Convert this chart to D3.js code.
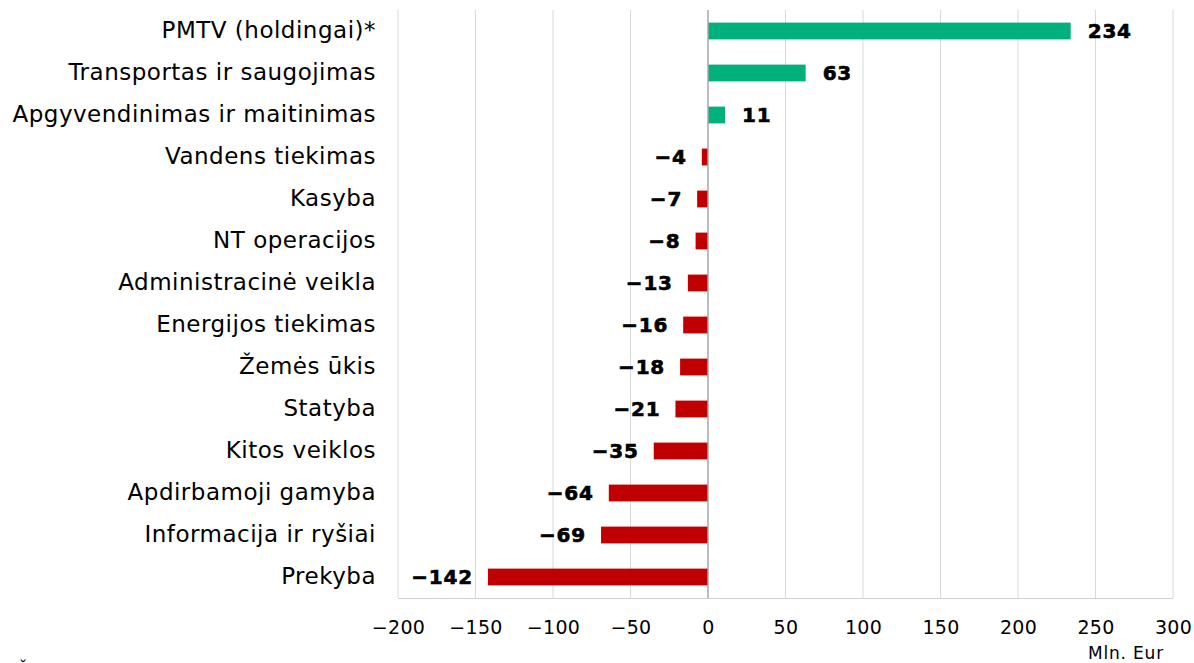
<!DOCTYPE html>
<html><head><meta charset="utf-8">
<script src="https://cdn.jsdelivr.net/npm/d3@7"></script>
<style>body{margin:0;background:#fff}svg{display:block}</style>
</head><body>
<svg id="c" width="1194" height="663"></svg>
<script>
const categories = ["PMTV (holdingai)*","Transportas ir saugojimas","Apgyvendinimas ir maitinimas","Vandens tiekimas","Kasyba","NT operacijos","Administracinė veikla","Energijos tiekimas","Žemės ūkis","Statyba","Kitos veiklos","Apdirbamoji gamyba","Informacija ir ryšiai","Prekyba"];
const values = [234,63,11,-4,-7,-8,-13,-16,-18,-21,-35,-64,-69,-142];
const xTicks = [-200,-150,-100,-50,0,50,100,150,200,250,300];
const unitLabel = "Mln. Eur";
const sourceLabel = "Šaltinis: Lietuvos bankas.";

const svg = d3.select("#c");
const font = "DejaVu Sans, Verdana, sans-serif";
const x = d3.scaleLinear().domain([-200,300]).range([398,1173]);
const y = d3.scaleBand().domain(categories).range([10,598]).paddingInner(0.6).paddingOuter(0.3);
const fmt = v => v < 0 ? "\u2212" + Math.abs(v) : String(v);

// gridlines
svg.append("g").selectAll("line").data(xTicks.filter(t=>t!==0)).join("line")
  .attr("x1",d=>x(d)).attr("x2",d=>x(d)).attr("y1",10).attr("y2",598)
  .attr("stroke","#d9d9d9").attr("stroke-width",1);

// bottom axis line
svg.append("line").attr("x1",398).attr("x2",1173).attr("y1",598.5).attr("y2",598.5).attr("stroke","#d0d0d0");

// bars
svg.append("g").selectAll("rect").data(values).join("rect")
  .attr("x",d=>x(Math.min(0,d))).attr("width",d=>Math.abs(x(d)-x(0)))
  .attr("y",(d,i)=>y(categories[i])).attr("height",y.bandwidth())
  .attr("fill",d=>d>=0?"#00b07d":"#c00000");

// zero line
svg.append("line").attr("x1",x(0)).attr("x2",x(0)).attr("y1",10).attr("y2",598).attr("stroke","#a6a6a6").attr("stroke-width",1.5);

// value labels
svg.append("g").selectAll("text").data(values).join("text")
  .attr("x",d=>d>=0?x(d)+17:x(d)-15)
  .attr("y",(d,i)=>y(categories[i])+y.bandwidth()/2)
  .attr("dy","0.36em")
  .attr("text-anchor",d=>d>=0?"start":"end")
  .attr("font-family",font).attr("font-weight","bold").attr("font-size",20)
  .attr("letter-spacing",0.8)
  .attr("stroke","#000").attr("stroke-width",0.6)
  .attr("fill","#000").text(fmt);

// category labels
const yAxis = d3.axisLeft(y).tickSize(0).tickPadding(0);
const ya = svg.append("g").attr("transform","translate(376,0)").call(yAxis);
ya.select(".domain").remove();
ya.selectAll("text").attr("font-family",font).attr("font-size",23).attr("letter-spacing",0.5).attr("fill","#000");

// x tick labels
const xAxis = d3.axisBottom(x).tickValues(xTicks).tickSize(0).tickPadding(0).tickFormat(fmt);
const xa = svg.append("g").attr("transform","translate(0,620)").call(xAxis);
xa.select(".domain").remove();
xa.selectAll("text").attr("font-family",font).attr("font-size",19).attr("letter-spacing",0.3).attr("fill","#000");

svg.append("text").attr("x",1126).attr("y",659).attr("text-anchor","middle")
  .attr("font-family",font).attr("font-size",17).attr("letter-spacing",0.8).attr("fill","#000").text(unitLabel);

svg.append("text").attr("x",17).attr("y",678).attr("font-family",font).attr("font-size",19)
  .attr("fill","#000").text(sourceLabel);
</script>
</body></html>
